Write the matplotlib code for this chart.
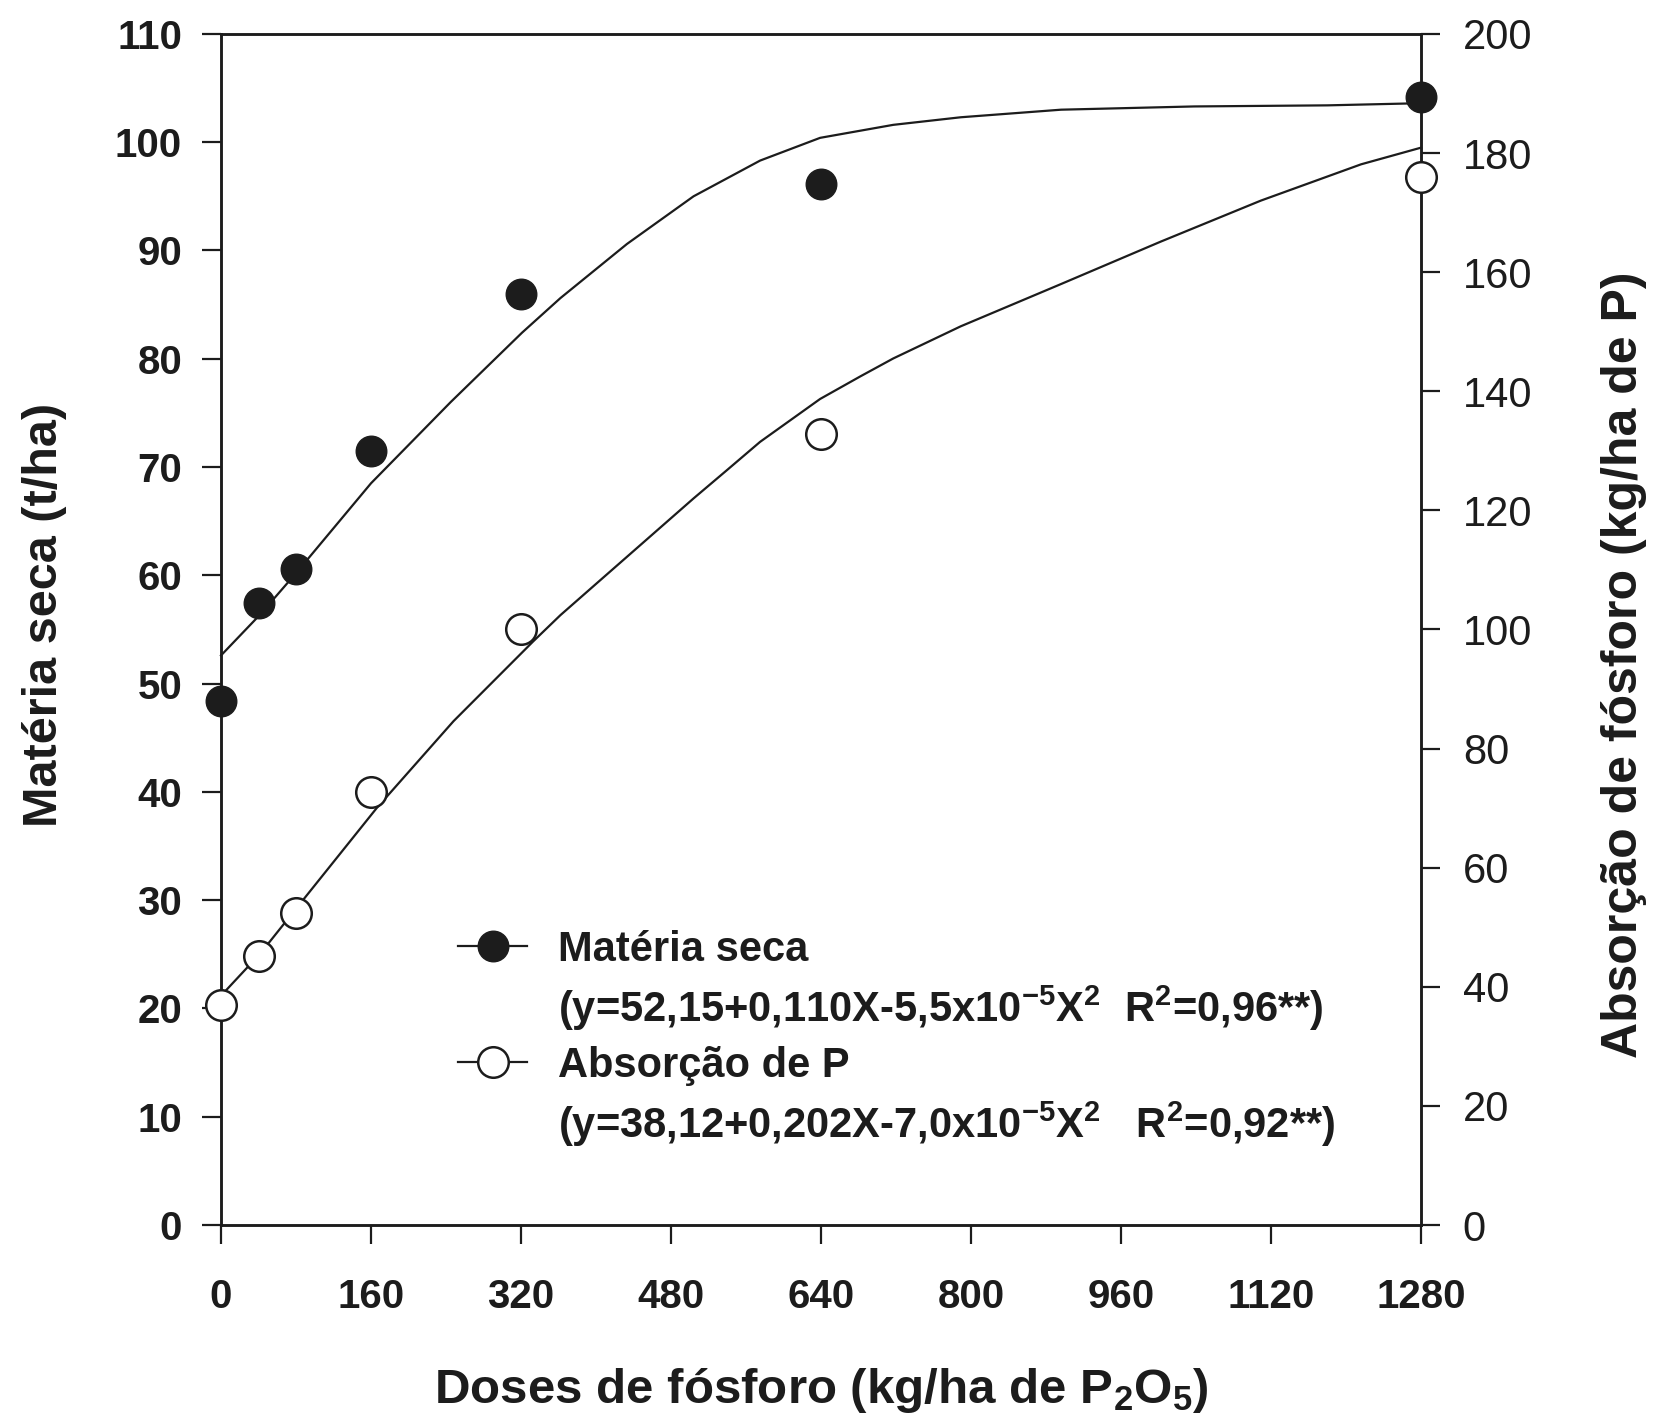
import numpy as np
import matplotlib
matplotlib.use("Agg")
import matplotlib.pyplot as plt
from matplotlib.lines import Line2D

# doses (kg/ha de P2O5)
doses = [0, 40, 80, 160, 320, 640, 1280]
materia_seca = [48.4, 57.4, 60.6, 71.5, 86.0, 96.1, 104.2]        # t/ha
absorcao_p = [36.9, 45.1, 52.4, 72.7, 100.0, 132.9, 176.0]        # kg/ha de P

# fitted curves
curva_ms_x = [0, 42, 81, 160, 245, 321, 362, 433, 504, 575, 639, 717, 789, 896, 1038, 1180, 1280]
curva_ms = [52.6, 56.4, 60.3, 68.5, 76.0, 82.4, 85.6, 90.6, 95.0, 98.3, 100.4, 101.6, 102.3, 103.0, 103.3, 103.4, 103.6]
curva_ap_x = [0, 42, 81, 166, 248, 333, 362, 404, 433, 504, 540, 575, 639, 682, 717, 789, 896, 1002, 1109, 1216, 1280]
curva_ap = [38.5, 45.6, 53.3, 70.0, 84.6, 98.0, 102.4, 108.2, 112.2, 122.0, 126.8, 131.5, 138.7, 142.5,
            145.5, 150.9, 158.0, 165.1, 172.0, 178.1, 180.9]

xticks = [0, 160, 320, 480, 640, 800, 960, 1120, 1280]
yticks_left = list(range(0, 111, 10))
yticks_right = list(range(0, 201, 20))

leg_labels = ["Matéria seca",
              "(y=52,15+0,110X-5,5x10$^{-5}$X$^{2}$  R$^{2}$=0,96**)",
              "Absorção de P",
              "(y=38,12+0,202X-7,0x10$^{-5}$X$^{2}$   R$^{2}$=0,92**)"]

plt.rcParams['font.family'] = ['Liberation Sans', 'DejaVu Sans']
plt.rcParams['mathtext.fontset'] = 'custom'
plt.rcParams['mathtext.rm'] = 'Liberation Sans:bold'
plt.rcParams['mathtext.default'] = 'rm'

INK = '#1c1c1c'

fig = plt.figure(figsize=(16.53, 14.18), dpi=100)
ax = fig.add_axes([0.1337, 0.1361, 0.726, 0.840])
ax2 = ax.twinx()

ax.plot(curva_ms_x, curva_ms, color=INK, lw=1.6, clip_on=False)
ax.plot(doses, materia_seca, 'o', color=INK, ms=22, clip_on=False, zorder=5)
ax2.plot(curva_ap_x, curva_ap, color=INK, lw=1.6, clip_on=False)
ax2.plot(doses, absorcao_p, 'o', mfc='white', mec=INK, mew=1.8, ms=22, clip_on=False, zorder=5)

ax.set_xlim(0, 1280)
ax.set_ylim(0, 110)
ax2.set_ylim(0, 200)
ax.set_xticks(xticks)
ax.set_yticks(yticks_left)
ax2.set_yticks(yticks_right)

for sp in list(ax.spines.values()) + list(ax2.spines.values()):
    sp.set_linewidth(1.8)
    sp.set_color(INK)

ax.tick_params(axis='x', direction='out', length=14, width=1.6, pad=24, colors=INK, labelsize=29)
ax.tick_params(axis='y', direction='out', length=14, width=1.6, pad=14, colors=INK, labelsize=29)
ax2.tick_params(axis='y', direction='out', length=14, width=1.6, pad=16, colors=INK, labelsize=30)
for lb in ax.get_xticklabels() + ax.get_yticklabels():
    lb.set_fontweight('bold')

ax.set_xlabel("Doses de fósforo (kg/ha de P$_{2}$O$_{5}$)", fontsize=35.5, fontweight='bold', color=INK)
ax.xaxis.set_label_coords(0.5, -0.118)
ax.set_ylabel("Matéria seca (t/ha)", fontsize=35, fontweight='bold', color=INK)
ax.yaxis.set_label_coords(-0.128, 0.512)
ax2.set_ylabel("Absorção de fósforo (kg/ha de P)", rotation=90, fontsize=36, fontweight='bold', color=INK)
ax2.yaxis.set_label_coords(1.15, 0.47)

h1 = Line2D([], [], color=INK, lw=1.6, marker='o', ms=22)
h2 = Line2D([], [], color=INK, lw=1.6, marker='o', mfc='white', mec=INK, mew=1.8, ms=22)
blank = Line2D([], [], color='none')
leg = fig.legend([h1, blank, h2, blank], leg_labels, loc='upper left',
                 bbox_to_anchor=(0.2646, 0.359), frameon=False, borderpad=0,
                 handlelength=1.65, handletextpad=0.75, labelspacing=0.32,
                 prop={'size': 30, 'weight': 'bold'})
for t in leg.get_texts():
    t.set_color(INK)

fig.savefig("out.png", dpi=100)
